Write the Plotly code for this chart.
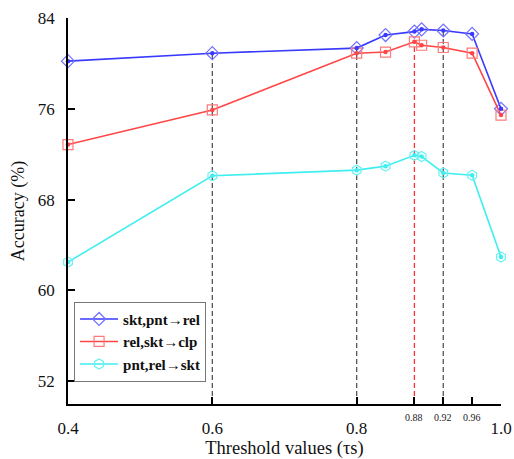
import plotly.graph_objects as go

thresholds = [0.4, 0.6, 0.8, 0.84, 0.88, 0.89, 0.92, 0.96, 1.0]
skt_pnt_rel = [80.2, 80.9, 81.35, 82.5, 82.8, 83.0, 82.9, 82.6, 76.0]
rel_skt_clp = [72.85, 75.9, 80.9, 81.0, 81.9, 81.6, 81.4, 80.9, 75.45]
pnt_rel_skt = [62.5, 70.1, 70.6, 70.95, 71.9, 71.8, 70.35, 70.15, 62.95]

series_names = ["skt,pnt→rel", "rel,skt→clp", "pnt,rel→skt"]
line_colors = ["#3a3aff", "#ff4545", "#40eef0"]
marker_colors = ["#7070ff", "#ff7a7a", "#66f2f4"]
symbols = ["diamond-open", "square-open", "hexagon-open"]

gray_refs = [0.6, 0.8, 0.92]
red_refs = [0.88]

major_ticks = [0.4, 0.6, 0.8, 1.0]
minor_ticks = [0.88, 0.92, 0.96]
y_ticks = [52, 60, 68, 76, 84]
y_min, y_max = 50, 84

FONT = "Liberation Serif"

fig = go.Figure()

for xv in gray_refs:
    top = skt_pnt_rel[thresholds.index(xv)]
    fig.add_trace(go.Scatter(x=[xv, xv], y=[y_min, top], mode="lines",
                             line=dict(color="#555555", width=1.3, dash="5px,3px"),
                             showlegend=False, hoverinfo="skip"))
for xv in red_refs:
    top = rel_skt_clp[thresholds.index(xv)]
    fig.add_trace(go.Scatter(x=[xv, xv], y=[y_min, top], mode="lines",
                             line=dict(color="#ff3030", width=1.3, dash="5px,3px"),
                             showlegend=False, hoverinfo="skip"))

all_series = [skt_pnt_rel, rel_skt_clp, pnt_rel_skt]
for name, vals, lc, mc, sym in zip(series_names, all_series, line_colors, marker_colors, symbols):
    fig.add_trace(go.Scatter(
        x=thresholds, y=vals, mode="lines+markers", name=name,
        line=dict(color=lc, width=1.6),
        marker=dict(symbol=sym, size=10, color=mc, line=dict(color=mc, width=1.2)),
        cliponaxis=False,
    ))
for vals, lc in zip(all_series, line_colors):
    fig.add_trace(go.Scatter(
        x=thresholds, y=vals, mode="markers", showlegend=False, hoverinfo="skip",
        marker=dict(symbol="circle", size=4.5, color=lc, line=dict(width=0)),
        cliponaxis=False,
    ))

for xv in minor_ticks:
    fig.add_annotation(x=xv, y=0, xref="x", yref="paper", yanchor="top",
                       yshift=-6, text=f"{xv:.2f}", showarrow=False,
                       font=dict(family=FONT, size=10, color="#222"))

fig.update_layout(
    width=514, height=459,
    margin=dict(l=68, r=13, t=18, b=55),
    paper_bgcolor="white", plot_bgcolor="white",
    font=dict(family=FONT, color="#111"),
    legend=dict(x=0.014, y=0.265, xanchor="left", yanchor="top",
                bordercolor="#777777", borderwidth=1, bgcolor="white",
                font=dict(family=FONT, size=15, color="#111", weight="bold"),
                itemwidth=38, tracegroupgap=0),
    xaxis=dict(range=[0.4, 1.0], automargin=False,
               tickvals=major_ticks + minor_ticks,
               ticktext=[f"{v:.1f}" for v in major_ticks] + ["" for _ in minor_ticks],
               ticks="inside", ticklen=7, tickwidth=1.5, tickcolor="black",
               showline=True, linecolor="black", linewidth=1.8,
               showgrid=False, zeroline=False,
               tickfont=dict(family=FONT, size=17),
               ticklabelstandoff=8,
               title=dict(text="Threshold values (τs)", font=dict(family=FONT, size=18.5), standoff=4)),
    yaxis=dict(range=[y_min, y_max], tickvals=y_ticks, automargin=False,
               ticks="inside", ticklen=7, tickwidth=1.5, tickcolor="black",
               showline=True, linecolor="black", linewidth=1.8,
               showgrid=False, zeroline=False,
               tickfont=dict(family=FONT, size=17),
               ticklabelstandoff=8,
               title=dict(text="Accuracy (%)", font=dict(family=FONT, size=18), standoff=8)),
)

fig.write_html("out.html", config={"displayModeBar": False},
               post_script="document.body.style.margin='0';document.body.style.overflow='hidden';")
